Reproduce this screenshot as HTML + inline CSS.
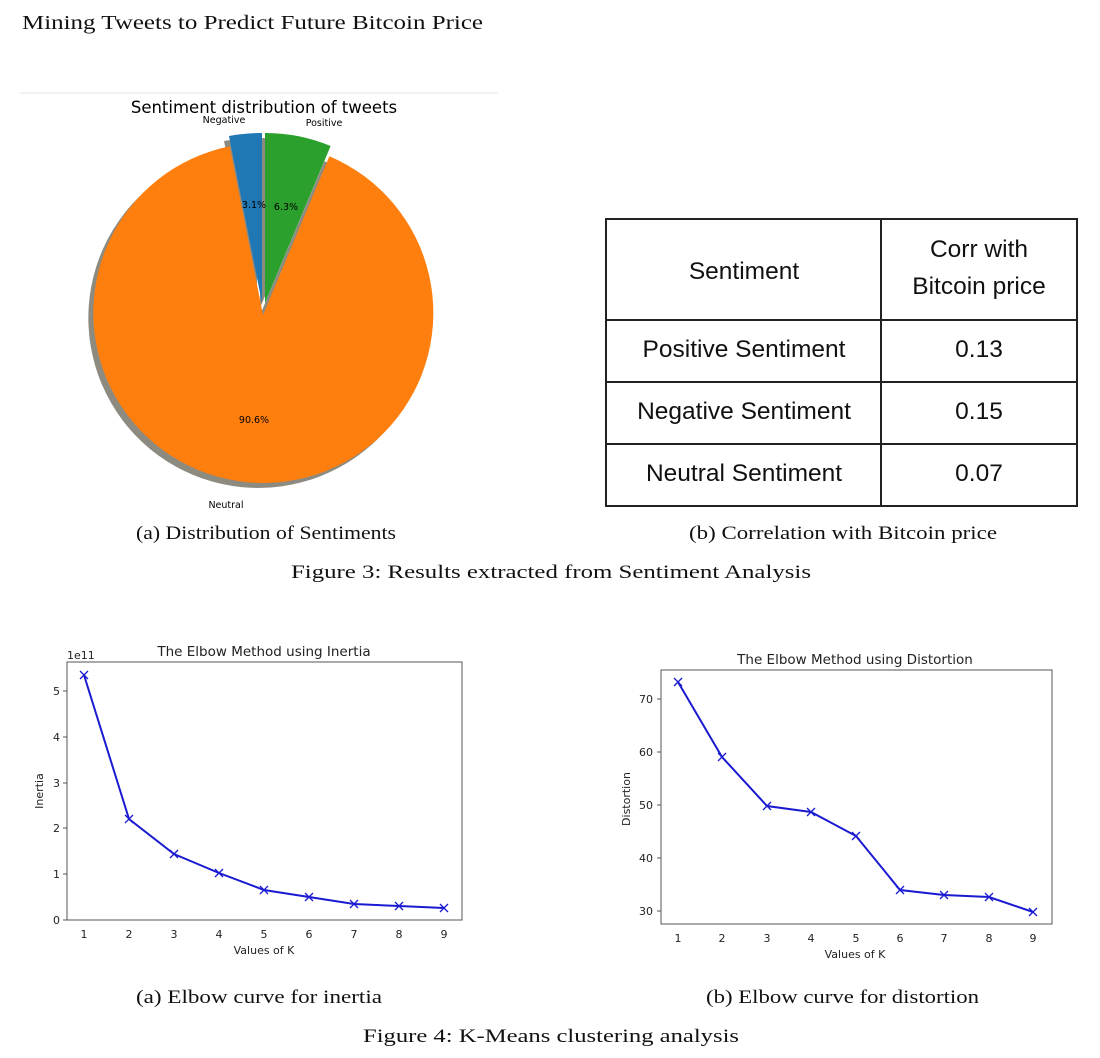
<!DOCTYPE html><html><head><style>body{margin:0;background:#fff}svg{display:block}</style></head><body>
<svg width="1100" height="1058" viewBox="0 0 1100 1058" xmlns="http://www.w3.org/2000/svg">
<rect width="1100" height="1058" fill="#fff"/>
<g font-family="Liberation Serif, serif" fill="#111" lengthAdjust="spacingAndGlyphs">
<text x="22" y="29" font-size="20" textLength="461" lengthAdjust="spacingAndGlyphs">Mining Tweets to Predict Future Bitcoin Price</text>
<text x="136" y="539" font-size="19" textLength="260" lengthAdjust="spacingAndGlyphs">(a) Distribution of Sentiments</text>
<text x="689" y="539" font-size="19" textLength="308" lengthAdjust="spacingAndGlyphs">(b) Correlation with Bitcoin price</text>
<text x="291" y="578" font-size="19" textLength="520" lengthAdjust="spacingAndGlyphs">Figure 3: Results extracted from Sentiment Analysis</text>
<text x="136" y="1003" font-size="19" textLength="246" lengthAdjust="spacingAndGlyphs">(a) Elbow curve for inertia</text>
<text x="706" y="1003" font-size="19" textLength="273" lengthAdjust="spacingAndGlyphs">(b) Elbow curve for distortion</text>
<text x="363" y="1042" font-size="19" textLength="376" lengthAdjust="spacingAndGlyphs">Figure 4: K-Means clustering analysis</text>
</g>
<line x1="20" y1="93" x2="498" y2="93" stroke="#e6e6e6"/>
<g font-family="DejaVu Sans, sans-serif">
<text x="264" y="113" font-size="16.5" text-anchor="middle">Sentiment distribution of tweets</text>
<g fill="#8d8a80">
<path d="M258,320 L224.7,151.3 A170 170 0 1 0 324.4,161.3 Z"/>
<path d="M257,308 L257,138 A170 170 0 0 0 224,141 Z"/>
<path d="M260,308 L260,138 A170 170 0 0 1 325.6,151 Z"/>
</g>
<path d="M263,315 L229.7,146.3 A170 170 0 1 0 329.4,156.3 Z" fill="#ff7f0e"/>
<path d="M262,303 L262,133 A170 170 0 0 0 229,136 Z" fill="#1f77b4"/>
<path d="M265,303 L265,133 A170 170 0 0 1 330.6,146 Z" fill="#2ca02c"/>
<g font-size="9.5" fill="#000">
<text x="254" y="208" text-anchor="middle">3.1%</text>
<text x="286" y="210" text-anchor="middle">6.3%</text>
<text x="254" y="423" text-anchor="middle">90.6%</text>
<text x="224" y="123" text-anchor="middle">Negative</text>
<text x="324" y="126" text-anchor="middle">Positive</text>
<text x="226" y="508" text-anchor="middle">Neutral</text>
</g>
</g>
<g stroke="#222" stroke-width="2" fill="none">
<rect x="606" y="219" width="471" height="287"/>
<line x1="881" y1="219" x2="881" y2="506"/>
<line x1="606" y1="320" x2="1077" y2="320"/>
<line x1="606" y1="382" x2="1077" y2="382"/>
<line x1="606" y1="444" x2="1077" y2="444"/>
</g>
<g font-family="Liberation Sans, sans-serif" font-size="24.5" text-anchor="middle" fill="#111">
<text x="744" y="279">Sentiment</text>
<text x="979" y="257">Corr with</text>
<text x="979" y="294">Bitcoin price</text>
<text x="744" y="357">Positive Sentiment</text><text x="979" y="357">0.13</text>
<text x="744" y="419">Negative Sentiment</text><text x="979" y="419">0.15</text>
<text x="744" y="481">Neutral Sentiment</text><text x="979" y="481">0.07</text>
</g>
<g font-family="DejaVu Sans, sans-serif" font-size="11" fill="#222">
<text x="264" y="656" font-size="13.5" text-anchor="middle">The Elbow Method using Inertia</text>
<text x="67" y="659">1e11</text>
<rect x="67" y="662" width="395" height="258" fill="none" stroke="#555"/>
<g text-anchor="end">
<text x="60" y="924">0</text><text x="60" y="878">1</text><text x="60" y="832">2</text><text x="60" y="787">3</text><text x="60" y="741">4</text><text x="60" y="695">5</text></g>
<g stroke="#555"><line x1="63" y1="920" x2="67" y2="920"/><line x1="63" y1="874" x2="67" y2="874"/><line x1="63" y1="828" x2="67" y2="828"/><line x1="63" y1="783" x2="67" y2="783"/><line x1="63" y1="737" x2="67" y2="737"/><line x1="63" y1="691" x2="67" y2="691"/></g>
<g text-anchor="middle"><text x="84" y="938">1</text><text x="129" y="938">2</text><text x="174" y="938">3</text><text x="219" y="938">4</text><text x="264" y="938">5</text><text x="309" y="938">6</text><text x="354" y="938">7</text><text x="399" y="938">8</text><text x="444" y="938">9</text>
<text x="264" y="954">Values of K</text></g>
<text transform="translate(43,791) rotate(-90)" text-anchor="middle">Inertia</text>
<polyline points="84,675 129,819 174,854 219,873 264,890 309,897 354,904 399,906 444,908" fill="none" stroke="#1a1ad0" stroke-width="2"/>
<g stroke="#1a1ad0" stroke-width="1.3">
<path d="M80,671l8,8m0,-8l-8,8M125,815l8,8m0,-8l-8,8M170,850l8,8m0,-8l-8,8M215,869l8,8m0,-8l-8,8M260,886l8,8m0,-8l-8,8M305,893l8,8m0,-8l-8,8M350,900l8,8m0,-8l-8,8M395,902l8,8m0,-8l-8,8M440,904l8,8m0,-8l-8,8"/></g>

<text x="855" y="664" font-size="13.5" text-anchor="middle">The Elbow Method using Distortion</text>
<rect x="661" y="670" width="391" height="254" fill="none" stroke="#555"/>
<g text-anchor="end"><text x="653" y="915">30</text><text x="653" y="862">40</text><text x="653" y="809">50</text><text x="653" y="756">60</text><text x="653" y="703">70</text></g>
<g stroke="#555"><line x1="657" y1="911" x2="661" y2="911"/><line x1="657" y1="858" x2="661" y2="858"/><line x1="657" y1="805" x2="661" y2="805"/><line x1="657" y1="752" x2="661" y2="752"/><line x1="657" y1="699" x2="661" y2="699"/></g>
<g text-anchor="middle"><text x="678" y="942">1</text><text x="722" y="942">2</text><text x="767" y="942">3</text><text x="811" y="942">4</text><text x="856" y="942">5</text><text x="900" y="942">6</text><text x="944" y="942">7</text><text x="989" y="942">8</text><text x="1033" y="942">9</text>
<text x="855" y="958">Values of K</text></g>
<text transform="translate(630,799) rotate(-90)" text-anchor="middle">Distortion</text>
<polyline points="678,682 722,757 767,806 811,812 856,836 900,890 944,895 989,897 1033,912" fill="none" stroke="#1a1ad0" stroke-width="2"/>
<g stroke="#1a1ad0" stroke-width="1.3">
<path d="M674,678l8,8m0,-8l-8,8M718,753l8,8m0,-8l-8,8M763,802l8,8m0,-8l-8,8M807,808l8,8m0,-8l-8,8M852,832l8,8m0,-8l-8,8M896,886l8,8m0,-8l-8,8M940,891l8,8m0,-8l-8,8M985,893l8,8m0,-8l-8,8M1029,908l8,8m0,-8l-8,8"/></g>
</g>
</svg>
</body></html>
